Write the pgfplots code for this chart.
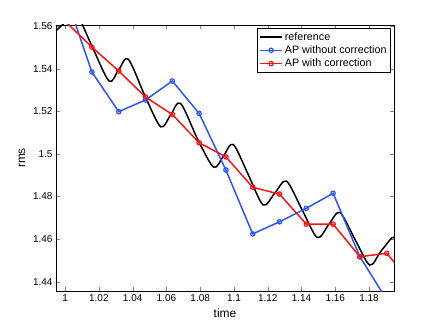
\documentclass[border=0pt]{standalone}
\usepackage{fontspec}
\setmainfont{Liberation Sans}
\usepackage{pgfplots}
\pgfplotsset{compat=1.18}
\definecolor{apblue}{RGB}{45,85,245}
\definecolor{apred}{RGB}{250,20,20}

\begin{document}
\begin{tikzpicture}[font=\fontsize{10}{12}\selectfont]
\path[use as bounding box] (-56bp,-37bp) rectangle (380bp,291bp);
\begin{axis}[
  at={(0,0)}, anchor=south west,
  width=338bp, height=266bp, scale only axis,
  xmin=0.9946, xmax=1.1948, ymin=1.4356, ymax=1.5605,
  xtick={1,1.02,1.04,1.06,1.08,1.1,1.12,1.14,1.16,1.18},
  ytick={1.44,1.46,1.48,1.5,1.52,1.54,1.56},
  /pgf/number format/assume math mode=true,
  tick align=inside, major tick length=4bp,
  axis line style={line width=0.8bp},
  xlabel={time}, ylabel={rms},
  xlabel style={at={(axis description cs:0.5,-0.082)}, anchor=center, font=\fontsize{12}{14}\selectfont},
  ylabel style={at={(axis description cs:-0.1006,0.5)}, anchor=center, font=\fontsize{12}{14}\selectfont},
  legend cell align=left,
  legend style={at={(axis description cs:0.990,0.9876)}, anchor=north east,
    draw=black, line width=0.6bp, inner sep=1.8bp, row sep=0bp,
    font=\fontsize{10.8}{12.5}\selectfont},
  legend image code/.code={\draw[mark repeat=2,mark phase=2] plot coordinates {(0bp,0bp) (11bp,0bp) (22bp,0bp)};},
]
\addplot[black, line width=1.5bp, smooth] coordinates {
(0.9946,1.5578) (1.0006,1.5622) (1.0062,1.5666) (1.0161,1.5502)
(1.0260,1.5342) (1.0317,1.5394) (1.0374,1.5445) (1.0474,1.5270)
(1.0566,1.5127) (1.0625,1.5182) (1.0684,1.5237) (1.0790,1.5060)
(1.0881,1.4937) (1.0938,1.4990) (1.0996,1.5044) (1.1085,1.4902)
(1.1173,1.4760) (1.1242,1.4816) (1.1311,1.4872) (1.1402,1.4740)
(1.1493,1.4607) (1.1560,1.4666) (1.1627,1.4725) (1.1716,1.4600)
(1.1804,1.4478) (1.1869,1.4541) (1.1934,1.4605) (1.1948,1.4604)
};
\addlegendentry{reference}
\addplot[apblue, line width=1.5bp, mark=o, mark size=2.2bp, mark options={line width=1.2bp}] coordinates {
(1.00000,1.5752) (1.01587,1.5384) (1.03175,1.5198) (1.04762,1.5253)
(1.06349,1.5342) (1.07937,1.5190) (1.09524,1.4924) (1.11111,1.4624)
(1.12698,1.4681) (1.14286,1.4744) (1.15873,1.4815) (1.17460,1.4517)
(1.19048,1.4315)
};
\addlegendentry{AP without correction}
\addplot[apred, line width=1.5bp, mark=o, mark size=2.2bp, mark options={line width=1.2bp}] coordinates {
(1.00000,1.5623) (1.01587,1.5501) (1.03175,1.5389) (1.04762,1.5267)
(1.06349,1.5185) (1.07937,1.5052) (1.09524,1.4986) (1.11111,1.4843)
(1.12698,1.4811) (1.14286,1.4670) (1.15873,1.4670) (1.17460,1.4517)
(1.19048,1.4533) (1.20635,1.4386)
};
\addlegendentry{AP with correction}
\end{axis}
\end{tikzpicture}
\end{document}
